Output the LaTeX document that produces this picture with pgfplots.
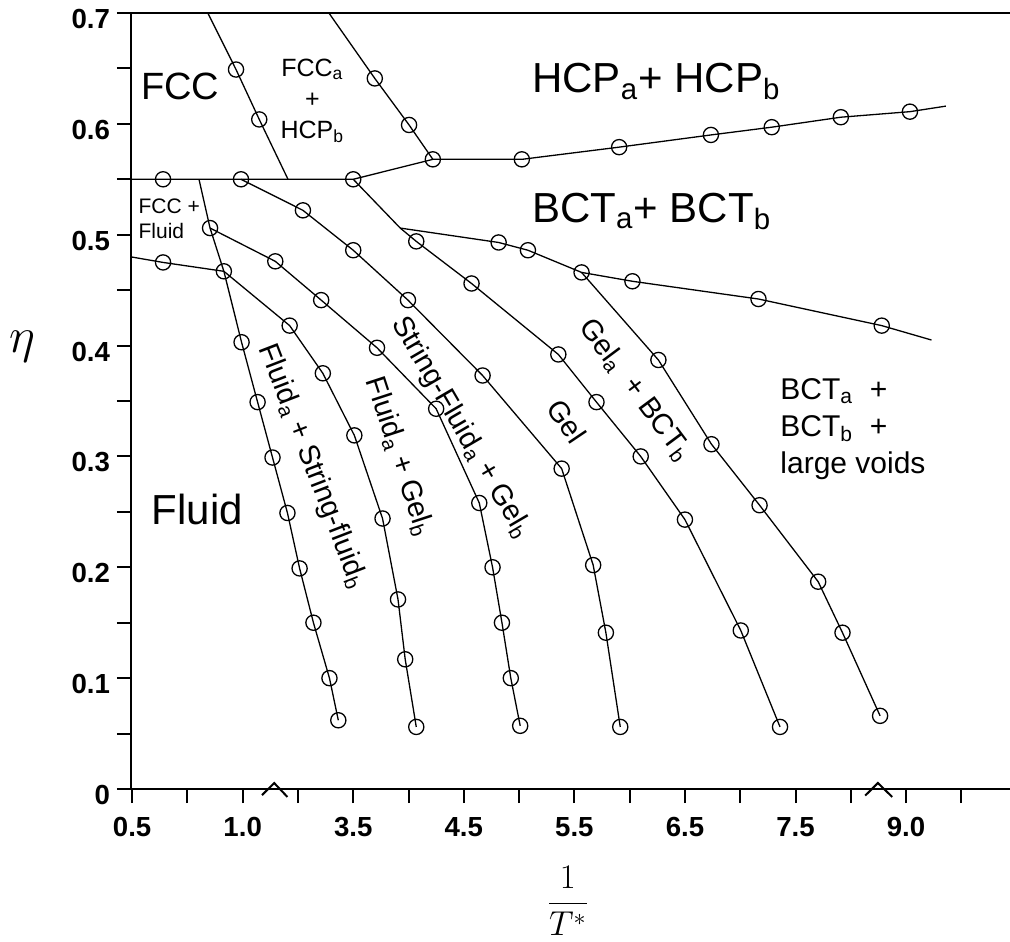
\documentclass[border=0pt]{standalone}
\usepackage[no-math]{fontspec}
\setmainfont{Liberation Sans}
\usepackage{pgfplots}
\pgfplotsset{compat=1.18}
\tikzset{rlab/.style={font=\fontsize{14.5}{16}\selectfont, inner sep=0pt}}

% x is plotted at tick positions (0 = 0.5, 2 = 1.0, 4 = 3.5, ... 14 = 9.0), the axis is broken
\begin{document}
\begin{tikzpicture}
\begin{axis}[
  name=ax,
  scale only axis,
  width=439.5pt, height=388pt,
  xmin=-0.02, xmax=15.88,
  ymin=0, ymax=0.7,
  axis x line=box, axis y line=left,
  y axis line style={-},
  axis line style={line width=1pt},
  xtick pos=bottom,
  tick align=outside,
  major tick length=7pt, minor tick length=7pt,
  tick style={black, line width=1pt},
  xtick={0,2,...,14}, minor xtick={1,3,...,15},
  xticklabels={0.5,1.0,3.5,4.5,5.5,6.5,7.5,9.0},
  ytick={0,0.1,0.2,0.3,0.4,0.5,0.6,0.7},
  minor ytick={0.05,0.15,0.25,0.35,0.45,0.55,0.65},
  yticklabels={0,0.1,0.2,0.3,0.4,0.5,0.6,0.7},
  ticklabel style={font=\fontsize{13.8}{15}\selectfont\bfseries},
  yticklabel style={yshift=-3pt},
  xticklabel style={yshift=-3.5pt},
  xlabel={$\displaystyle\frac{1}{T^{*}}$},
  ylabel={$\eta$},
  every axis x label/.style={at={(rel axis cs:0.497,0)}, anchor=center, yshift=-56pt, inner sep=0pt, font=\fontsize{16.5}{18}\selectfont},
  every axis y label/.style={at={(rel axis cs:0,0.57)}, anchor=center, xshift=-54.5pt, font=\fontsize{24}{26}\selectfont},
  clip=false,
  every axis plot/.append style={black, line width=0.65pt},
]
% phase boundaries
\addplot[no markers] coordinates {(1.37,0.700) (1.88,0.649) (2.30,0.604) (2.82,0.550)};
\addplot[no markers] coordinates {(-0.02,0.550) (0.56,0.550) (1.97,0.550) (4.00,0.550) (5.44,0.568) (7.05,0.568) (8.81,0.579) (10.47,0.590) (11.57,0.597) (12.82,0.606) (14.07,0.611) (14.72,0.616)};
\addplot[no markers] coordinates {(3.56,0.700) (4.39,0.641) (5.01,0.599) (5.44,0.568)};
\addplot[no markers] coordinates {(-0.02,0.480) (0.56,0.475) (1.66,0.467)};
\addplot[no markers] coordinates {(1.21,0.550) (1.41,0.506) (1.66,0.467) (1.98,0.403) (2.27,0.349) (2.54,0.299) (2.81,0.249) (3.03,0.199) (3.28,0.150) (3.57,0.100) (3.73,0.062)};
\addplot[no markers] coordinates {(1.66,0.467) (2.85,0.418) (3.45,0.375) (4.02,0.319) (4.53,0.244) (4.81,0.171) (4.94,0.117) (5.14,0.056)};
\addplot[no markers] coordinates {(1.41,0.506) (2.59,0.476) (3.42,0.441) (4.43,0.398) (5.50,0.343) (6.28,0.258) (6.52,0.200) (6.69,0.150) (6.85,0.100) (7.02,0.057)};
\addplot[no markers] coordinates {(1.97,0.550) (3.09,0.522) (4.00,0.486) (4.99,0.441) (6.34,0.373) (7.77,0.289) (8.34,0.202) (8.57,0.141) (8.83,0.056)};
\addplot[no markers] coordinates {(4.00,0.550) (4.85,0.506) (5.14,0.494) (6.14,0.456) (7.71,0.392) (8.40,0.349) (9.20,0.300) (10.00,0.243) (11.01,0.143) (11.72,0.056)};
\addplot[no markers] coordinates {(4.85,0.506) (6.63,0.493) (7.16,0.486) (8.13,0.466) (9.05,0.458) (11.33,0.442) (13.56,0.418) (14.46,0.405)};
\addplot[no markers] coordinates {(8.13,0.466) (9.52,0.387) (10.48,0.311) (11.35,0.256) (12.41,0.187) (12.85,0.141) (13.53,0.066)};
% simulation points
\addplot[only marks, mark=o, mark size=3.8pt, mark options={line width=0.65pt}] coordinates {
  (1.88,0.649) (2.30,0.604)
  (0.56,0.550) (1.97,0.550) (4.00,0.550)
  (5.44,0.568) (7.05,0.568) (8.81,0.579) (10.47,0.590) (11.57,0.597) (12.82,0.606) (14.07,0.611)
  (4.39,0.641) (5.01,0.599)
  (0.56,0.475)
  (1.41,0.506) (1.66,0.467) (1.98,0.403) (2.27,0.349) (2.54,0.299) (2.81,0.249) (3.03,0.199) (3.28,0.150) (3.57,0.100) (3.73,0.062)
  (2.85,0.418) (3.45,0.375) (4.02,0.319) (4.53,0.244) (4.81,0.171) (4.94,0.117) (5.14,0.056)
  (2.59,0.476) (3.42,0.441) (4.43,0.398) (5.50,0.343) (6.28,0.258) (6.52,0.200) (6.69,0.150) (6.85,0.100) (7.02,0.057)
  (3.09,0.522) (4.00,0.486) (4.99,0.441) (6.34,0.373) (7.77,0.289) (8.34,0.202) (8.57,0.141) (8.83,0.056)
  (5.14,0.494) (6.14,0.456) (7.71,0.392) (8.40,0.349) (9.20,0.300) (10.00,0.243) (11.01,0.143) (11.72,0.056)
  (6.63,0.493) (7.16,0.486) (8.13,0.466) (9.05,0.458) (11.33,0.442) (13.56,0.418)
  (9.52,0.387) (10.48,0.311) (11.35,0.256) (12.41,0.187) (12.85,0.141) (13.53,0.066)
};
% axis break marks
\draw[line width=1pt] (2.35,-0.0055) -- (2.57,0.0054) -- (2.81,-0.0072);
\draw[line width=1pt] (13.26,-0.0060) -- (13.49,0.0054) -- (13.75,-0.0072);
% region labels
\node[font=\fontsize{19}{21}\selectfont] at (0.87,0.634) {FCC};
\node[font=\fontsize{21}{23}\selectfont] at (1.18,0.252) {Fluid};
\node[font=\fontsize{12.5}{15.5}\selectfont, align=center] at (3.26,0.621) {FCC\textsubscript{a}\\+\\HCP\textsubscript{b}};
\node[font=\fontsize{10.5}{12.5}\selectfont, align=left, anchor=north west, inner sep=0pt] at (0.11,0.533) {FCC +\\Fluid};
\node[font=\fontsize{21}{23}\selectfont, anchor=base west, inner sep=0pt] at (7.23,0.628) {HCP\textsubscript{a}+ HCP\textsubscript{b}};
\node[font=\fontsize{21}{23}\selectfont, anchor=base west, inner sep=0pt] at (7.23,0.511) {BCT\textsubscript{a}+ BCT\textsubscript{b}};
\node[font=\fontsize{15}{18.7}\selectfont, align=left, anchor=north west, inner sep=0pt] at (11.72,0.371) {BCT\textsubscript{a} \ +\\BCT\textsubscript{b} \ +\\large voids};
\node[rlab, rotate=-68.9] at (3.26,0.291) {Fluid\textsubscript{a} + String-fluid\textsubscript{b}};
\node[rlab, rotate=-71.9] at (4.83,0.300) {Fluid\textsubscript{a} + Gel\textsubscript{b}};
\node[rlab, rotate=-59.7] at (5.95,0.326) {String-Fluid\textsubscript{a} + Gel\textsubscript{b}};
\node[rlab, rotate=-56] at (7.87,0.332) {Gel};
\node[rlab, rotate=-53.3] at (9.10,0.360) {Gel\textsubscript{a} \ + BCT\textsubscript{b}};
\end{axis}
\pgfresetboundingbox
\path ([xshift=-65.5pt,yshift=-76pt]ax.south west) rectangle ([yshift=6.5pt]ax.north east);
\end{tikzpicture}
\end{document}
